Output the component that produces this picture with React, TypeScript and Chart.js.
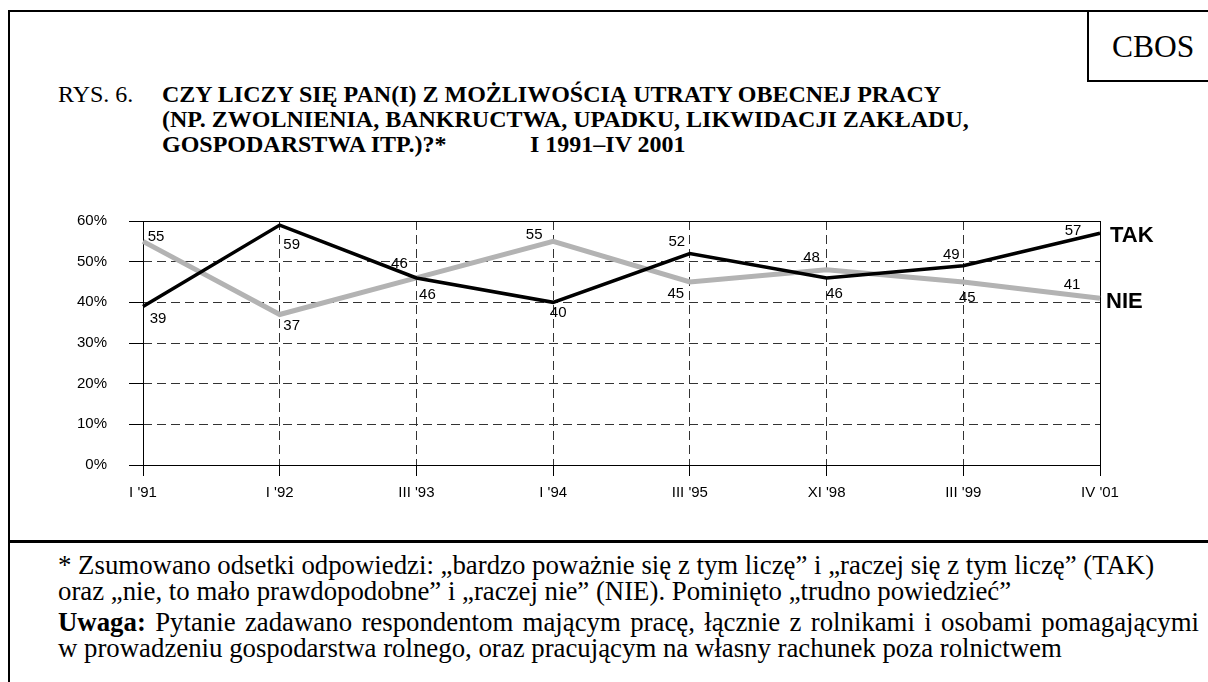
import React, { useEffect, useRef } from "react";
import { Chart, registerables } from "chart.js";

Chart.register(...registerables);

// ---- data ----
const categories = ["I '91", "I '92", "III '93", "I '94", "III '95", "XI '98", "III '99", "IV '01"];
const takValues = [39, 59, 46, 40, 52, 46, 49, 57];
const nieValues = [55, 37, 46, 55, 45, 48, 45, 41];
const yTickValues = [0, 10, 20, 30, 40, 50, 60];
const seriesNames = ["TAK", "NIE"];

// label placement (dx, dy from point, px) – styling only
const takLabelOffsets = [[15, 12], [12, 20], [11, 17], [5, 11], [-13, -12], [8, 16], [-12, -11], [-27, -2]];
const nieLabelOffsets = [[13, -4], [12, 11], [-17, -14], [-19, -6], [-14, 12], [-15, -12], [4, 16], [-28, -13]];

const SANS = "'Liberation Sans', Arial, sans-serif";
const SERIF = "'Liberation Serif', 'Times New Roman', serif";

const CANVAS_TOP = 190;
const CANVAS_H = 345;
const W = 1208;

const App: React.FC = () => {
  const ref = useRef<HTMLCanvasElement | null>(null);

  useEffect(() => {
    if (!ref.current) return;
    const overlay = {
      id: "overlay",
      beforeDatasetsDraw(chart: any) {
        const { ctx, chartArea } = chart;
        ctx.save();
        ctx.strokeStyle = "#000";
        ctx.lineWidth = 1;
        ctx.setLineDash([]);
        ctx.strokeRect(
          Math.round(chartArea.left) + 0.5,
          Math.round(chartArea.top) + 0.5,
          Math.round(chartArea.right - chartArea.left),
          Math.round(chartArea.bottom - chartArea.top)
        );
        ctx.restore();
      },
      afterDatasetsDraw(chart: any) {
        const { ctx } = chart;
        ctx.save();
        ctx.fillStyle = "#000";
        ctx.font = `15px ${SANS}`;
        ctx.textAlign = "center";
        ctx.textBaseline = "middle";
        const offs = [takLabelOffsets, nieLabelOffsets];
        chart.data.datasets.forEach((ds: any, di: number) => {
          const meta = chart.getDatasetMeta(di);
          meta.data.forEach((pt: any, i: number) => {
            const [dx, dy] = offs[di][i];
            ctx.fillText(String(ds.data[i]), pt.x + dx, pt.y + dy);
          });
        });
        // series end labels
        ctx.font = `bold 22px ${SANS}`;
        ctx.textAlign = "left";
        const endOff = [[10, 3], [6, 4]];
        chart.data.datasets.forEach((ds: any, di: number) => {
          const meta = chart.getDatasetMeta(di);
          const pt = meta.data[meta.data.length - 1];
          ctx.fillText(ds.label, pt.x + endOff[di][0], pt.y + endOff[di][1]);
        });
        ctx.restore();
      },
    };

    const chart = new Chart(ref.current, {
      type: "line",
      data: {
        labels: categories,
        datasets: [
          {
            label: seriesNames[0],
            data: takValues,
            borderColor: "#000000",
            borderWidth: 3.5,
            pointRadius: 0,
            tension: 0,
            fill: false,
          },
          {
            label: seriesNames[1],
            data: nieValues,
            borderColor: "#b3b3b3",
            borderWidth: 5,
            pointRadius: 0,
            tension: 0,
            fill: false,
          },
        ],
      },
      options: {
        animation: false,
        responsive: false,
        maintainAspectRatio: false,
        devicePixelRatio: 1,
        layout: { padding: { left: 63, right: 108, top: 27, bottom: 30 } },
        plugins: { legend: { display: false }, tooltip: { enabled: false } },
        scales: {
          x: {
            offset: false,
            grid: { color: "#333", lineWidth: 1, tickLength: 11, tickColor: "#000", offset: false },
            border: { display: false, dash: [9, 5] },
            ticks: {
              color: "#000",
              font: { family: SANS, size: 15 },
              padding: 8,
              maxRotation: 0,
              autoSkip: false,
            },
            afterFit: (s: any) => {
              s.height = 40;
            },
          },
          y: {
            min: 0,
            max: 60,
            afterBuildTicks: (s: any) => {
              s.ticks = yTickValues.map((v) => ({ value: v }));
            },
            grid: { color: "#333", lineWidth: 1, tickLength: 14, tickColor: "#000" },
            border: { display: false, dash: [9, 5] },
            ticks: {
              color: "#000",
              font: { family: SANS, size: 15 },
              padding: 22,
              callback: (v: any) => `${v}%`,
            },
            afterFit: (s: any) => {
              s.width = 80;
            },
          },
        },
      },
      plugins: [overlay],
    });
    return () => chart.destroy();
  }, []);

  const serifText: React.CSSProperties = { fontFamily: SERIF, color: "#000", position: "absolute", whiteSpace: "nowrap" };

  return (
    <div style={{ position: "fixed", left: 0, top: 0, width: W, height: 682, background: "#fff", overflow: "hidden" }}>
      {/* outer frame */}
      <div style={{ position: "absolute", left: 8, top: 10, width: 1260, height: 700, border: "2px solid #000", boxSizing: "border-box" }} />
      {/* separator */}
      <div style={{ position: "absolute", left: 8, top: 540, width: 1260, height: 3, background: "#000" }} />
      {/* CBOS box */}
      <div style={{ position: "absolute", left: 1087, top: 10, width: 200, height: 72, border: "2px solid #000", boxSizing: "border-box" }} />
      <div style={{ ...serifText, left: 1112, top: 30, fontSize: 31.5, lineHeight: "34px" }}>CBOS</div>

      {/* title */}
      <div style={{ ...serifText, left: 58, top: 82, fontSize: 24, lineHeight: "25px" }}>RYS. 6.</div>
      <div style={{ ...serifText, left: 162, top: 82, fontSize: 24, lineHeight: "25px", fontWeight: "bold" }}>
        <div>CZY LICZY SIĘ PAN(I) Z MOŻLIWOŚCIĄ UTRATY OBECNEJ PRACY</div>
        <div>(NP. ZWOLNIENIA, BANKRUCTWA, UPADKU, LIKWIDACJI ZAKŁADU,</div>
        <div>GOSPODARSTWA ITP.)?*</div>
      </div>
      <div style={{ ...serifText, left: 530, top: 132, fontSize: 24, lineHeight: "25px", fontWeight: "bold" }}>I 1991–IV 2001</div>

      <canvas
        ref={ref}
        width={W}
        height={CANVAS_H}
        style={{ position: "absolute", left: 0, top: CANVAS_TOP, width: W, height: CANVAS_H }}
      />

      {/* footnotes */}
      <div style={{ ...serifText, left: 58, top: 552, fontSize: 26.8, lineHeight: "26px" }}>
        <div>* Zsumowano odsetki odpowiedzi: „bardzo poważnie się z tym liczę” i „raczej się z tym liczę” (TAK)</div>
        <div>oraz „nie, to mało prawdopodobne” i „raczej nie” (NIE). Pominięto „trudno powiedzieć”</div>
      </div>
      <div style={{ ...serifText, left: 58, top: 609, width: 1141, fontSize: 26.8, lineHeight: "26px" }}>
        <div style={{ textAlign: "justify", textAlignLast: "justify", whiteSpace: "normal" }}>
          <b>Uwaga:</b> Pytanie zadawano respondentom mającym pracę, łącznie z rolnikami i osobami pomagającymi
        </div>
        <div>w prowadzeniu gospodarstwa rolnego, oraz pracującym na własny rachunek poza rolnictwem</div>
      </div>
    </div>
  );
};

export default App;
